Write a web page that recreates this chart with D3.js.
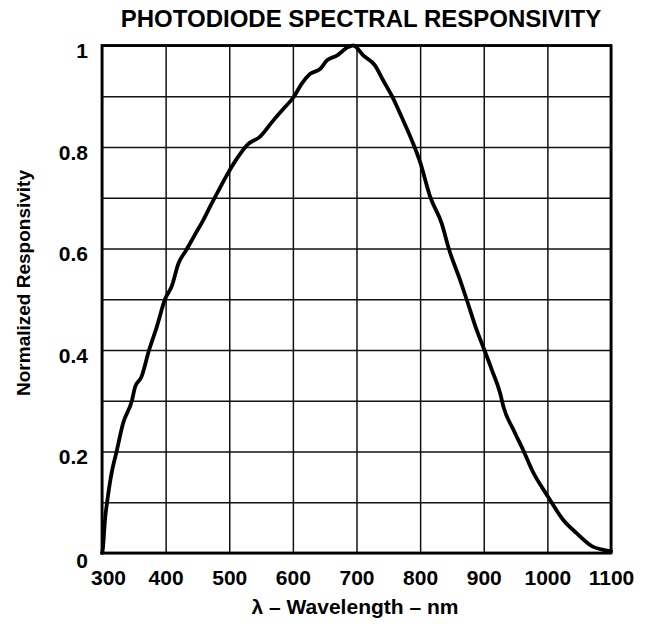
<!DOCTYPE html>
<html>
<head>
<meta charset="utf-8">
<script src="https://cdn.jsdelivr.net/npm/d3@7"></script>
<style>
  html, body { margin: 0; padding: 0; background: #fff; }
  svg { display: block; }
  text { font-family: "Liberation Sans", Arial, Helvetica, sans-serif; font-weight: bold; fill: #000; }
</style>
</head>
<body>
<svg id="chart" width="649" height="635"></svg>
<script>
const wavelength = [300,301,305,308,315,323,333,347,352,362,374,386,399,410,420,432,445,460,472,486,496,512,530,548,569,585,601,614,627,643,653,669,687,695,711,729,742,755,771,787,800,816,834,845,863,873,889,901,913,926,931,947,963,976,1001,1025,1046,1072,1085,1100];
const responsivity = [0,0.005,0.07,0.10,0.157,0.20,0.255,0.30,0.327,0.347,0.40,0.445,0.50,0.527,0.57,0.596,0.625,0.658,0.688,0.721,0.744,0.777,0.806,0.82,0.852,0.875,0.898,0.925,0.944,0.954,0.97,0.98,0.997,1.0,0.98,0.961,0.931,0.902,0.859,0.813,0.77,0.701,0.649,0.60,0.537,0.50,0.439,0.40,0.36,0.314,0.288,0.242,0.20,0.163,0.111,0.065,0.039,0.012,0.007,0.003];
const xTicks = [300,400,500,600,700,800,900,1000,1100];
const yGrid = [0,0.1,0.2,0.3,0.4,0.5,0.6,0.7,0.8,0.9,1];
const yTickLabels = [0,0.2,0.4,0.6,0.8,1];
const titleText = "PHOTODIODE SPECTRAL RESPONSIVITY";
const xTitle = "λ – Wavelength – nm";
const yTitle = "Normalized Responsivity";

const svg = d3.select("#chart");
const L = 102, R = 611, T = 45.5, B = 553;
const x = d3.scaleLinear().domain([300, 1100]).range([L, R]);
const y = d3.scaleLinear().domain([0, 1]).range([B, T]);

// grid
const gx = svg.append("g").attr("transform", `translate(0,${B})`)
  .call(d3.axisBottom(x).tickValues(xTicks).tickSize(-(B - T)).tickFormat(""));
gx.select(".domain").remove();
gx.selectAll("line").attr("stroke", "#111").attr("stroke-width", 1.5);

const gy = svg.append("g").attr("transform", `translate(${L},0)`)
  .call(d3.axisLeft(y).tickValues(yGrid).tickSize(-(R - L)).tickFormat(""));
gy.select(".domain").remove();
gy.selectAll("line").attr("stroke", "#111").attr("stroke-width", 1.5);

// frame
svg.append("rect").attr("x", L).attr("y", T).attr("width", R - L).attr("height", B - T)
  .attr("fill", "none").attr("stroke", "#000").attr("stroke-width", 2.8);

// x tick labels
const xl = svg.append("g").attr("transform", `translate(0,${B})`)
  .call(d3.axisBottom(x).tickValues(xTicks).tickSize(0).tickPadding(0).tickFormat(d3.format("d")));
xl.select(".domain").remove();
xl.selectAll("text")
  .attr("y", 32).attr("dy", null)
  .attr("dx", d => d === 300 ? 6 : 0)
  .style("font-size", "21px");

// y tick labels
const yl = svg.append("g").attr("transform", `translate(${L},0)`)
  .call(d3.axisLeft(y).tickValues(yTickLabels).tickSize(0).tickPadding(0).tickFormat(d => d === 0 || d === 1 ? String(d) : d3.format(".1f")(d)));
yl.select(".domain").remove();
yl.selectAll("text")
  .attr("x", -14).attr("dy", null)
  .attr("y", d => d === 0 ? 14 : 12)
  .attr("text-anchor", "end")
  .style("font-size", "21px");

// curve
const line = d3.line().x((d, i) => x(wavelength[i])).y((d, i) => y(responsivity[i])).curve(d3.curveMonotoneX);
svg.append("path").datum(responsivity).attr("d", line)
  .attr("fill", "none").attr("stroke", "#000").attr("stroke-width", 3.8)
  .attr("stroke-linejoin", "round").attr("stroke-linecap", "round");

// titles
svg.append("text").attr("x", 361).attr("y", 27).attr("text-anchor", "middle")
  .style("font-size", "24px").text(titleText);
svg.append("text").attr("x", 355).attr("y", 614).attr("text-anchor", "middle")
  .style("font-size", "21px").text(xTitle);
svg.append("text").attr("transform", `translate(30,283) rotate(-90)`).attr("text-anchor", "middle")
  .style("font-size", "19px").text(yTitle);
</script>
</body>
</html>
